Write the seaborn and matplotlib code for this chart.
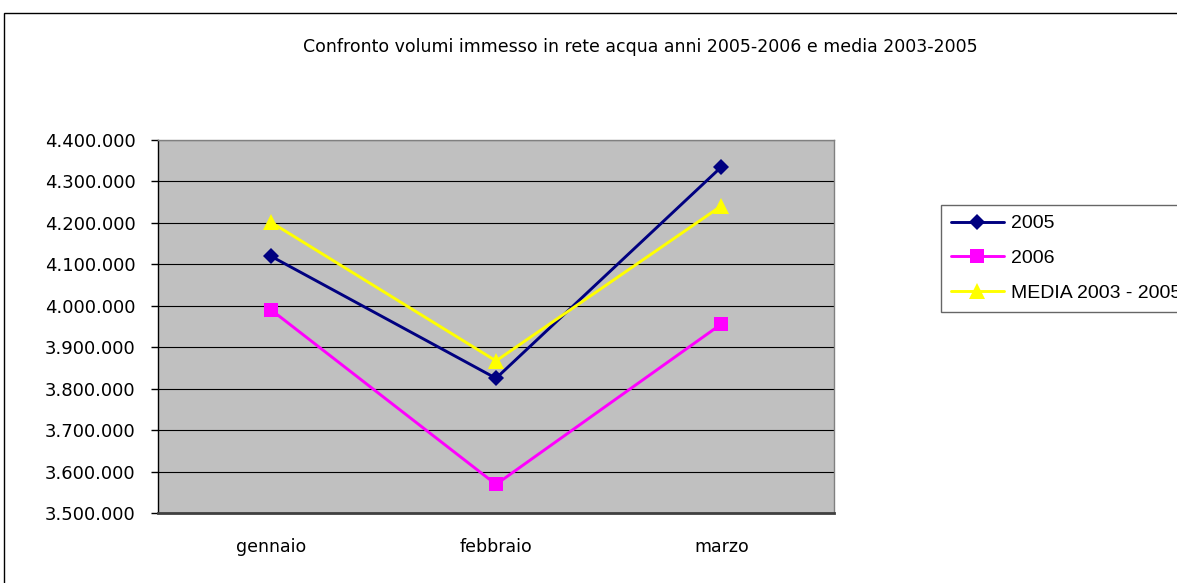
import matplotlib
matplotlib.use("Agg")
import matplotlib.pyplot as plt
import seaborn as sns
import pandas as pd
from matplotlib.ticker import FixedLocator, FuncFormatter
from matplotlib.patches import Rectangle
from matplotlib.lines import Line2D

mesi = ["gennaio", "febbraio", "marzo"]
serie_2005 = [4120000, 3825000, 4335000]
serie_2006 = [3991000, 3569000, 3956000]
media_2003_2005 = [4202000, 3867000, 4241000]
series_names = ["2005", "2006", "MEDIA 2003 - 2005"]
title = "Confronto volumi immesso in rete acqua anni 2005-2006 e media 2003-2005"

df = pd.DataFrame({
    "mese": mesi * 3,
    "valore": serie_2005 + serie_2006 + media_2003_2005,
    "serie": [series_names[0]] * 3 + [series_names[1]] * 3 + [series_names[2]] * 3,
})

sns.set_theme(style="white")
plt.rcParams["font.family"] = ["DejaVu Sans"]
plt.rcParams["text.color"] = "black"
plt.rcParams["xtick.color"] = "black"
plt.rcParams["ytick.color"] = "black"
plt.rcParams["xtick.labelcolor"] = "black"
plt.rcParams["ytick.labelcolor"] = "black"

fig = plt.figure(figsize=(11.77, 5.83), dpi=100)
ax = fig.add_axes([158/1177, 1-513/583, (834-158)/1177, (513-140)/583])
ax.set_facecolor("#C0C0C0")

palette = {"2005": "#000080", "2006": "#FF00FF", "MEDIA 2003 - 2005": "#FFFF00"}
markers = {"2005": "D", "2006": "s", "MEDIA 2003 - 2005": "^"}
sizes_m = {"2005": 8.5, "2006": 10.5, "MEDIA 2003 - 2005": 11.5}

sns.lineplot(data=df, x="mese", y="valore", hue="serie", style="serie",
             palette=palette, markers=markers, dashes=False, ax=ax,
             linewidth=2.1, markeredgewidth=0, sort=False, legend=False)
for line, name in zip(ax.lines, series_names):
    line.set_markersize(sizes_m[name])
    line.set_clip_on(False)

ax.set_ylim(3500000, 4400000)
ax.set_xlim(-0.5, 2.5)
ax.yaxis.set_major_locator(FixedLocator(list(range(3500000, 4400001, 100000))))
ax.yaxis.set_major_formatter(FuncFormatter(lambda v, p: f"{int(v):,}".replace(",", ".")))
ax.set_xticks([0, 1, 2])
ax.set_xticklabels(mesi)
ax.xaxis.set_minor_locator(FixedLocator([-0.5, 0.5, 1.5, 2.5]))
ax.tick_params(axis="x", which="major", length=0, pad=18, labelsize=12.5)
ax.tick_params(axis="x", which="minor", length=7, width=1, color="black", direction="out")
ax.tick_params(axis="y", which="major", length=5, width=1, color="black", direction="out",
               left=True, labelsize=13, pad=11)
ax.grid(axis="y", color="black", linewidth=0.8)
ax.set_axisbelow(True)
ax.set_xlabel("")
ax.set_ylabel("")
for s in ["top", "right"]:
    ax.spines[s].set_color("#808080")
    ax.spines[s].set_linewidth(1)
ax.spines["left"].set_color("black")
ax.spines["left"].set_linewidth(1)
ax.spines["bottom"].set_color("#404040")
ax.spines["bottom"].set_linewidth(2)

# legend
handles = [Line2D([0], [0], color=palette[n], marker=markers[n], markersize=sizes_m[n],
                  markeredgewidth=0, linewidth=2.1) for n in series_names]
leg = fig.legend(handles, series_names, loc="upper left",
                 bbox_to_anchor=(941/1177, 1-205/583), frameon=True,
                 prop={"family": ["Liberation Sans", "DejaVu Sans"], "size": 14},
                 handlelength=2.75, handletextpad=0.35, borderpad=0.5,
                 labelspacing=0.88, borderaxespad=0, fancybox=False)
leg.get_frame().set_edgecolor("#404040")
leg.get_frame().set_linewidth(1)

fig.text(640/1177, 1-47/583, title, ha="center", va="center", fontsize=12.5)

fig.patches.append(Rectangle((4/1177, -0.1), 2, 1.1 - 13/583, transform=fig.transFigure,
                             fill=False, edgecolor="black", linewidth=1))

fig.savefig("out.png", dpi=100)
